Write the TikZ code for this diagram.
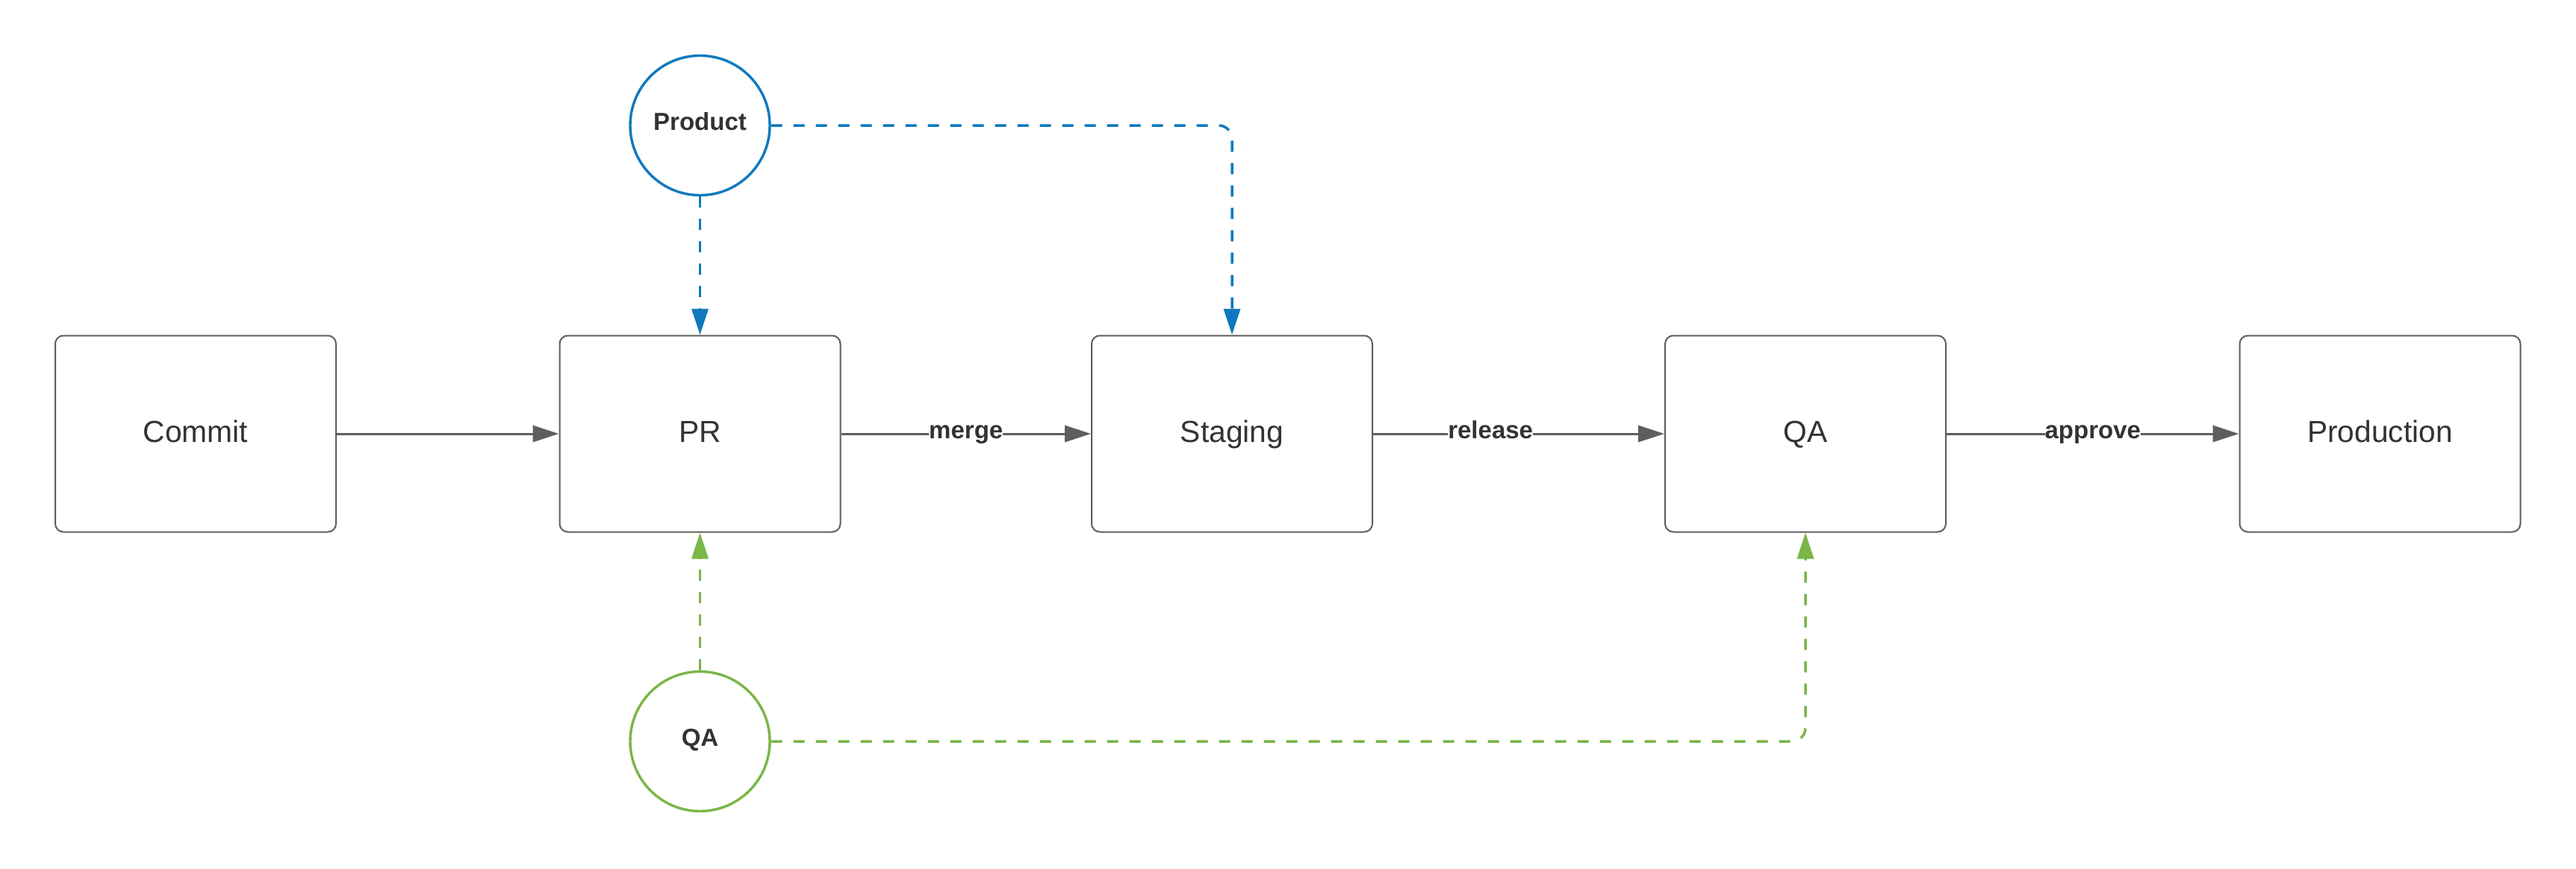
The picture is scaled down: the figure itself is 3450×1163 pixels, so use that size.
\documentclass[tikz,border=0pt]{standalone}
\usepackage{fontspec}
\setmainfont{Liberation Sans}
\usetikzlibrary{arrows.meta}
\definecolor{lblue}{RGB}{16,121,189}
\definecolor{lgreen}{RGB}{122,182,72}
\definecolor{lgray}{RGB}{94,94,94}
\definecolor{ltext}{RGB}{51,51,51}
\tikzset{
  stagebox/.style={draw=lgray, line width=2pt, rounded corners=11pt, rectangle,
    minimum width=376pt, minimum height=263pt, inner sep=0pt,
    font=\fontsize{40.8pt}{48pt}\selectfont, text=ltext,
    text height=29pt, text depth=7pt},
  role/.style={circle, line width=3.4pt, minimum size=187pt, inner sep=0pt,
    font=\fontsize{33pt}{40pt}\selectfont\bfseries, text=ltext,
    text height=24pt, text depth=12pt},
  flow/.style={draw=lgray, line width=3pt, -{Triangle[length=35pt,width=22pt]}},
  flowlabel/.style={fill=white, inner sep=0pt, font=\fontsize{33pt}{40pt}\selectfont\bfseries,
    text=ltext, text height=24pt, text depth=12pt},
  review/.style={line width=3.5pt, dash pattern=on 15pt off 15pt, rounded corners=18pt,
    -{Triangle[length=35pt,width=22pt]}},
}
\begin{document}
\begin{tikzpicture}[x=1pt, y=-1pt]
  \useasboundingbox (0,0) rectangle (3450,1163);
  % stages
  \node[stagebox] (commit) at (262,581) {Commit};
  \node[stagebox] (pr) at (937.5,581) {PR};
  \node[stagebox] (stg) at (1650,581) {Staging};
  \node[stagebox] (qa) at (2418,581) {QA};
  \node[stagebox] (prodn) at (3187.5,581) {Production};
  % reviewers
  \node[role, draw=lblue] (product) at (937.5,168) {Product};
  \node[role, draw=lgreen] (qac) at (937.5,993) {QA};
  % main flow
  \draw[flow] (commit.east) -- (pr.west);
  \draw[flow] (pr.east) -- node[flowlabel] {merge} (stg.west);
  \draw[flow] (stg.east) -- node[flowlabel, pos=0.403] {release} (qa.west);
  \draw[flow] (qa.east) -- node[flowlabel] {approve} (prodn.west);
  % reviews
  \draw[review, draw=lblue] (product.south) -- (pr.north);
  \draw[review, draw=lblue] (product.east) -| (stg.north);
  \draw[review, draw=lgreen] (qac.north) -- (pr.south);
  \draw[review, draw=lgreen] (qac.east) -| (qa.south);
\end{tikzpicture}
\end{document}
